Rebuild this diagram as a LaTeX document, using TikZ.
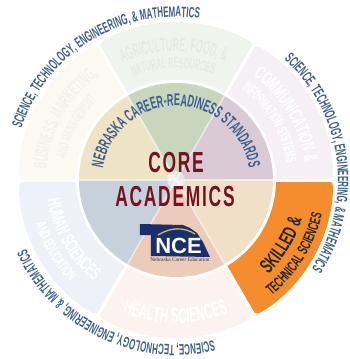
\documentclass[tikz,border=0pt]{standalone}
\usepackage{fontspec}
\usetikzlibrary{decorations.text}
\setmainfont{Liberation Sans}
\newfontfamily\corefont[FakeStretch=0.60,LetterSpace=6]{Liberation Sans Bold}
\newfontfamily\logofont{Liberation Sans Bold}
\newfontfamily\tinyserif{Liberation Serif}
\newfontfamily\arcbase{Liberation Sans Bold}
\definecolor{navytext}{HTML}{3E5E90}
\definecolor{corered}{HTML}{74121F}
\definecolor{logonavy}{HTML}{1B2F6E}
\definecolor{logogold}{HTML}{D9B94C}
\definecolor{orangeseg}{HTML}{F58C2E}
\definecolor{outertop}{HTML}{EFF4ED}
\definecolor{outerleft}{HTML}{FCF9F0}
\definecolor{outerright}{HTML}{F6F0F6}
\definecolor{outerlow}{HTML}{EEF2F8}
\definecolor{outerbot}{HTML}{FCF2EF}
\definecolor{innertop}{HTML}{C8D6BE}
\definecolor{innerleft}{HTML}{EFE3C6}
\definecolor{innerright}{HTML}{DACAD6}
\definecolor{innerpeach}{HTML}{F1E0C8}
\definecolor{innerbot}{HTML}{EDCBBB}
\definecolor{innerlow}{HTML}{C6D1DC}
\newlength{\arcwidth}
\newcommand{\wedgeseg}[2]{\fill[#2,rounded corners=7pt] (#1:90pt) -- (#1:157pt) arc[start angle=#1,delta angle=60,radius=157pt] -- ({#1+60}:90pt) -- cycle;}
\newcommand{\innerseg}[2]{\fill[#2] (0,0) -- (#1:97pt) arc[start angle=#1,delta angle=60,radius=97pt] -- cycle;}
% start angle, end angle, baseline radius, colour, text, font size
\newcommand{\arctext}[6]{%
  \setbox0=\hbox{\pgfinterruptpicture\fontsize{#6}{#6}\arcbase #5\endpgfinterruptpicture}%
  \arcwidth=\wd0\relax
  \pgfmathsetmacro{\arcst}{abs(#2-#1)*pi/180*#3/\arcwidth*0.97}%
  \setfontface\arcfont[FakeStretch=\arcst]{Liberation Sans Bold}%
  \pgfmathsetmacro{\arcsgn}{(#2>#1)?1:-1}%
  \pgfmathsetmacro{\arcA}{#1-4*\arcsgn}%
  \pgfmathsetmacro{\arcB}{#2+4*\arcsgn}%
  \path[decorate,decoration={text along path,text align=center,text={|\fontsize{#6}{#6}\arcfont\color{#4}|#5}}] (\arcA:#3pt) arc[start angle=\arcA,end angle=\arcB,radius=#3pt];}
\tikzset{
  gapline/.style={white,line width=3pt},
  softline/.style={white,opacity=.55,line width=1.5pt},
}
\begin{document}
\begin{tikzpicture}[x=1pt,y=1pt]
\useasboundingbox (-176,-179) rectangle (174,180);
\fill[white] (-176,-179) rectangle (174,180);
% outer ring
\wedgeseg{60}{outertop}
\wedgeseg{120}{outerleft}
\wedgeseg{0}{outerright}
\wedgeseg{180}{outerlow}
\wedgeseg{240}{outerbot}
\wedgeseg{300}{orangeseg}
\foreach \a in {0,60,...,300} \draw[gapline] (0,0) -- (\a:162pt);
\fill[white] (0,0) circle (100pt);
% inner ring
\innerseg{60}{innertop}
\innerseg{120}{innerleft}
\innerseg{0}{innerright}
\innerseg{300}{innerpeach}
\innerseg{240}{innerbot}
\innerseg{180}{innerlow}
\foreach \a in {0,60,...,300} \draw[softline] (0,0) -- (\a:97pt);
\fill[white,opacity=.5] (0,0) circle (9pt);
% outer labels
\arctext{162.5}{81}{163}{navytext}{SCIENCE, TECHNOLOGY, ENGINEERING, {\&} MATHEMATICS}{15}
\arctext{49}{-34}{162}{navytext}{SCIENCE, TECHNOLOGY, ENGINEERING, {\&} MATHEMATICS}{15}
\arctext{-76}{-156}{165}{navytext}{SCIENCE, TECHNOLOGY, ENGINEERING, {\&} MATHEMATICS}{15}
% inner label
\arctext{173}{7}{74}{navytext}{NEBRASKA CAREER-READINESS STANDARDS}{17}
% pale sector labels
\arctext{115}{67}{129}{outertop!96!black}{AGRICULTURE, FOOD, {\&}}{19}
\arctext{113}{70}{112}{outertop!96!black}{NATURAL RESOURCES}{15}
\arctext{176}{126}{130}{outerleft!97!black}{BUSINESS, MARKETING,}{19}
\arctext{170}{134}{112}{outerleft!97!black}{AND MANAGEMENT}{15}
\arctext{54}{7}{130}{white}{COMMUNICATION {\&}}{19}
\arctext{54.5}{8}{112}{white}{INFORMATION SYSTEMS}{15}
\arctext{188}{231.5}{130}{white}{HUMAN SCIENCES}{19}
\arctext{197}{224}{147}{white}{AND EDUCATION}{15}
\arctext{247.5}{292}{143}{white}{HEALTH SCIENCES}{21}
\arctext{-46}{-17}{132}{black!85}{SKILLED {\&}}{20}
\arctext{-51}{-12.5}{150}{black!85}{TECHNICAL SCIENCES}{15}
% centre titles
\node[text=corered,font={\fontsize{29}{29}\corefont},inner sep=0pt] (core) at (0,17) {CORE};
\node[text=corered,font={\fontsize{29}{29}\corefont},inner sep=0pt] (academics) at (-1,-17) {ACADEMICS};
% logo
\fill[logonavy] (-36,-44) -- (-36,-55) -- (-25,-55) -- (-25,-76) -- (34,-77) -- (27,-62) -- (21,-53) -- (14,-48) -- (7,-45) -- cycle;
\draw[logogold,line width=1.3pt] (-18,-55) .. controls (-5,-47) and (8,-47) .. (19,-54);
\node[text=white,font={\fontsize{22}{22}\logofont},inner sep=0pt] (nce) at (2.5,-66) {NCE};
\node[text=black!80,font={\fontsize{5.4}{5.4}\tinyserif},inner sep=0pt] (nceline) at (4,-79.5) {Nebraska Career Education};
\end{tikzpicture}
\end{document}
